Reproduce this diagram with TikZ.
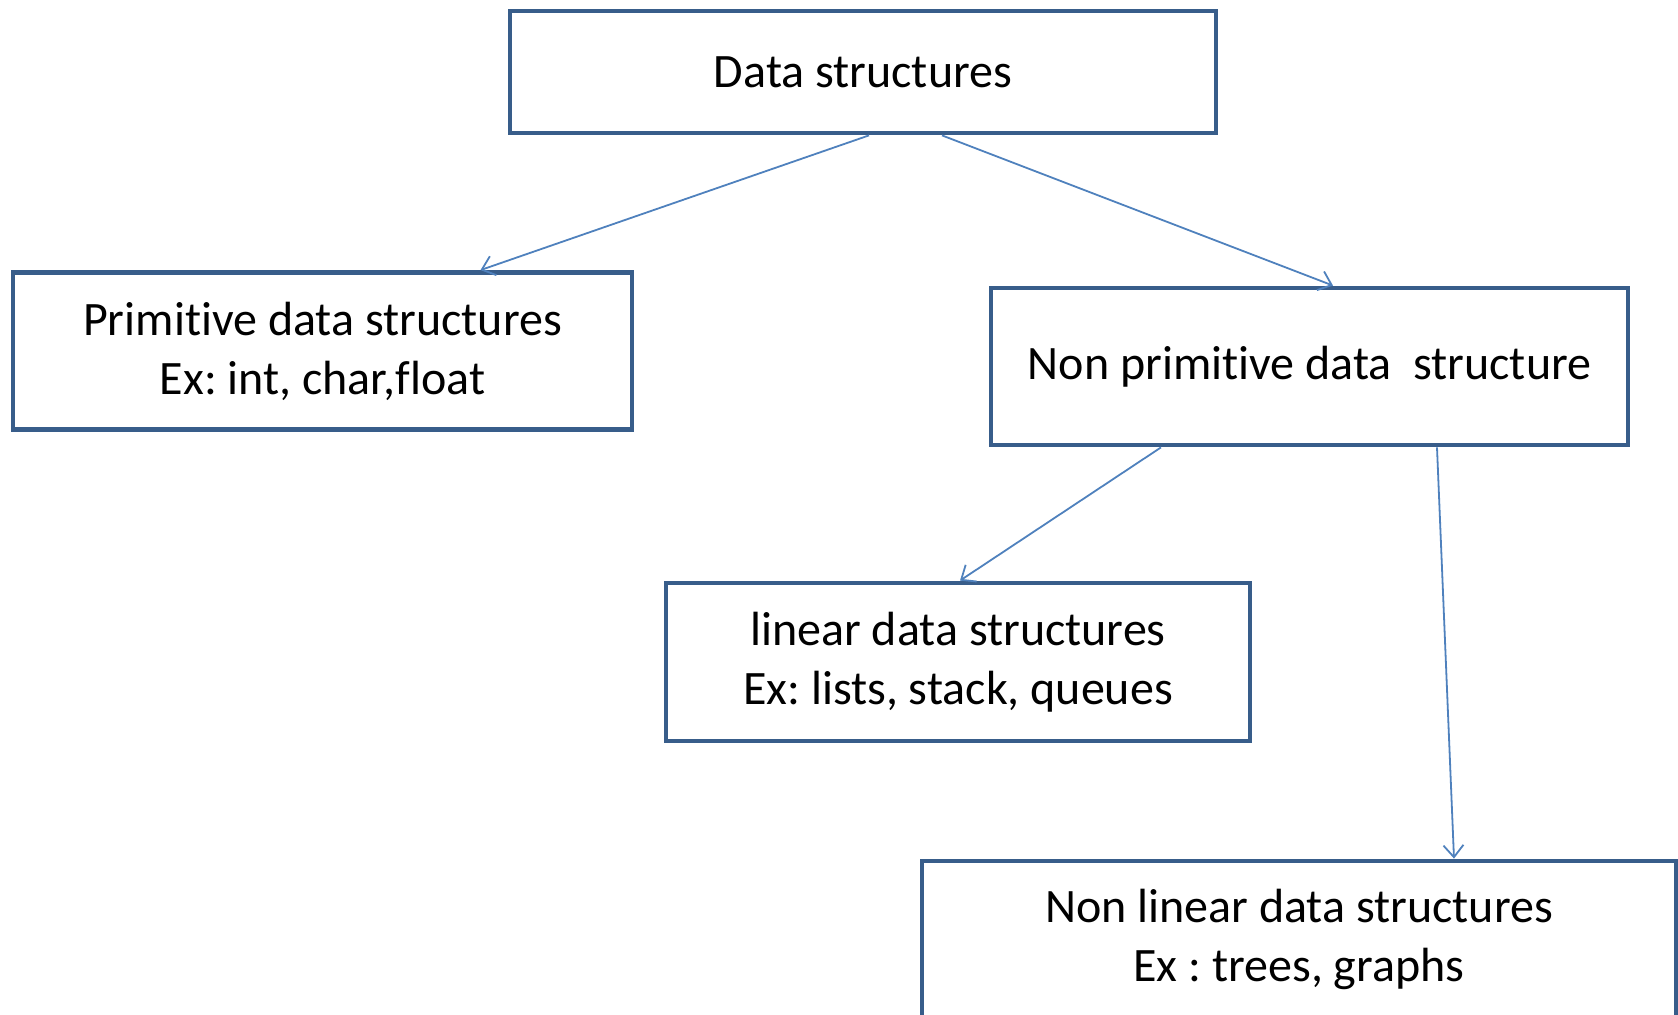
\documentclass[tikz,border=0pt]{standalone}
\usepackage{fontspec}
\setmainfont[Ligatures=NoCommon]{Carlito}
\usepackage{tikz}
\usetikzlibrary{arrows.meta, positioning, calc}
\definecolor{boxblue}{RGB}{56, 93, 138}
\definecolor{linkblue}{RGB}{79, 129, 189}
\frenchspacing

\begin{document}
\begin{tikzpicture}[
    x=0.5pt, y=-0.5pt,
    box/.style={draw=boxblue, line width=2.4pt, fill=white, align=center,
                inner sep=0pt, font=\fontsize{24}{29.5}\selectfont},
    arrow/.style={-{Straight Barb[length=6pt, width=10pt]}, line width=0.9pt, linkblue}
]
    \useasboundingbox (0,0) rectangle (1678,1015);

    \node[box, minimum width=706*0.5pt, minimum height=122*0.5pt] (ds) at (863,72)
        {Data structures};
    \node[box, minimum width=619*0.5pt, minimum height=157*0.5pt] (prim) at (322.5,351)
        {Primitive data structures\\Ex: int, char,float};
    \node[box, minimum width=637*0.5pt, minimum height=157*0.5pt] (nonprim) at (1309.5,366.5)
        {Non primitive data~ structure};
    \node[box, minimum width=584*0.5pt, minimum height=158*0.5pt] (linear) at (958,662)
        {linear data structures\\Ex: lists, stack, queues};
    \node[box, minimum width=754*0.5pt, minimum height=157*0.5pt] (nonlinear) at (1299,939.5)
        {Non linear data structures\\Ex : trees, graphs};

    \draw[arrow] ($(ds.south)+(6,0)$) -- ($(prim.north)+(158,0)$);
    \draw[arrow] ($(ds.south)+(79,0)$) -- ($(nonprim.north)+(23.5,0)$);
    \draw[arrow] ($(nonprim.south)+(-148.5,0)$) -- ($(linear.north)+(2,0)$);
    \draw[arrow] ($(nonprim.south)+(127.5,0)$) -- ($(nonlinear.north)+(155,0)$);
\end{tikzpicture}
\end{document}
